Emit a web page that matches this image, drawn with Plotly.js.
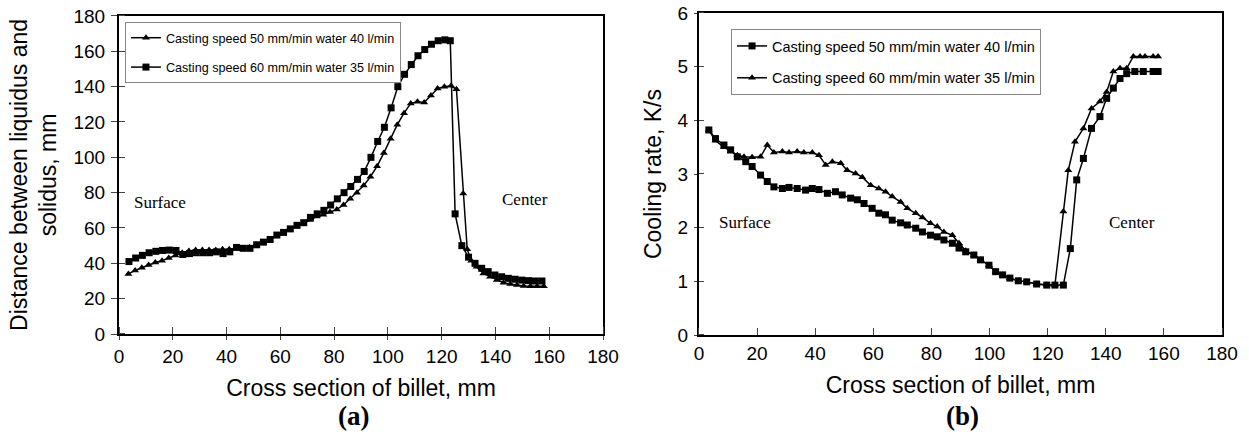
<!DOCTYPE html>
<html><head><meta charset="utf-8">
<script src="https://cdn.plot.ly/plotly-3.0.1.min.js"></script>
<style>html,body{margin:0;padding:0;background:#fff}#chart{width:1249px;height:435px}</style>
</head><body><div id="chart"></div>
<script>
// ---- Panel (a): distance between liquidus and solidus, mm ----
const aName1 = 'Casting speed 50 mm/min water 40 l/min';
const aName2 = 'Casting speed 60 mm/min water 35 l/min';
const aTriX = [3.5,6,8.5,11,13.5,16,18.5,21,23.5,26,28.5,31,33.5,36,38.5,41,43.5,46,48.5,51,53.5,56,58.5,61,63.5,66,68.5,71,73.5,76,78.5,81,83.5,86,88.5,91,93.5,96,98.5,101,103.5,106,108.5,111,113.5,116,118.5,121,123.5,125.5,128,129.5,131,133,135.5,138,140.5,143,145.5,148,150.5,153,155.5,158];
const aTriY = [34,36,37.5,39,40.5,41.5,43,44.5,46,47,47.5,47.5,47.5,47.5,48,48,48.5,48.5,49,50.5,52,53.5,55.5,57,59,61,62.5,64.5,66.5,67.5,69,70.5,73,76.5,80,84,89,95,102.5,110.5,118.5,125,130.5,131.5,131,135,139,140,140.5,138.5,79.5,48,41.5,38,34.3,32.4,30.6,29,28.3,27.7,27.2,27,27,27];
const aSqX = [3.7,6.2,8.7,11.2,13.7,16.2,18.7,21.2,23.7,26.2,28.7,31.2,33.7,36.2,38.7,41.2,43.7,46.2,48.7,51.2,53.7,56.2,58.7,61.2,63.7,66.2,68.7,71.2,73.7,76.2,78.7,81.2,83.7,86.2,88.7,91.2,93.7,96.2,98.7,101.2,103.7,106.2,108.7,111.2,113.7,116.2,118.7,121.2,123.2,125,127.5,130,132.4,134.9,137.3,139.8,142.3,144.8,147.3,149.8,152.3,154.8,157.3];
const aSqY = [41,43,44.5,46,46.8,47.3,47.5,47.3,45,45.5,46,46,46,46.5,45.5,46.5,49,48.5,48.5,50.5,52,53.5,56,57.5,59.5,61.5,63,66,68,70,73,76.5,80,83.5,87.5,92,100,109,117,128,140,147,152.5,157.5,161,164,166,166.5,166,68,50,43.5,40,37.2,35.3,33.4,32.4,31.5,31,30.5,30.2,30,30];

// ---- Panel (b): cooling rate, K/s ----
const bName1 = 'Casting speed 50 mm/min water 40 l/min';
const bName2 = 'Casting speed 60 mm/min water 35 l/min';
const bSqX = [3.4,5.7,8.6,10.9,13.2,16.1,18.3,21.2,23.5,25.8,28.7,31,33.8,36.7,39,41.3,44.2,47,49.3,52.2,54.5,56.8,59.6,61.9,64.2,66.5,69.4,71.7,74.6,76.9,79.7,82,84.3,87.2,89.5,91.8,94.6,96.9,99.8,102.1,104.5,107,109.9,112.8,116.2,119.7,122.5,125.4,127.8,130,132.3,135.1,138,140.3,142.6,144.9,147.2,150,152.9,156.3,158];
const bSqY = [3.82,3.66,3.54,3.45,3.32,3.23,3.14,2.98,2.86,2.76,2.73,2.75,2.73,2.70,2.73,2.71,2.64,2.67,2.61,2.55,2.52,2.45,2.36,2.27,2.24,2.14,2.09,2.05,1.99,1.92,1.86,1.83,1.77,1.71,1.62,1.55,1.49,1.40,1.30,1.18,1.12,1.06,1.01,0.99,0.95,0.93,0.93,0.93,1.61,2.89,3.29,3.85,4.07,4.41,4.60,4.78,4.87,4.91,4.91,4.91,4.91];
const bTriX = [3.4,5.7,8.6,10.9,13.2,15.5,18.3,21.2,23.5,25.8,28.7,31,33.8,36.1,39,41.3,43.6,45.9,48.8,51,53.9,56.2,59.1,61.9,64.2,66.5,69.4,71.7,74.6,76.9,79.7,82,84.3,87.2,89.5,91.8,94.6,96.9,99.8,102.1,104.5,107,109.9,112.8,116.2,119.7,122.5,125.4,127.1,129.4,132.3,135.1,138,140.3,142.6,144.9,147.2,149.5,151.8,153.5,156.3,158];
const bTriY = [3.82,3.62,3.5,3.42,3.35,3.32,3.31,3.32,3.54,3.40,3.42,3.40,3.42,3.40,3.40,3.35,3.17,3.23,3.20,3.07,3.01,2.94,2.79,2.73,2.67,2.58,2.48,2.36,2.27,2.19,2.08,2.02,1.92,1.86,1.71,1.57,1.49,1.40,1.30,1.18,1.12,1.06,1.01,0.99,0.95,0.93,0.93,2.30,3.07,3.60,3.85,4.22,4.35,4.53,4.91,4.97,4.97,5.19,5.19,5.19,5.19,5.19];

const xTitle = 'Cross section of billet, mm';
const aYTitle = 'Distance between liquidus and<br>solidus, mm';
const bYTitle = 'Cooling rate, K/s';

const lineStyle = {color:'#000', width:1.5};
const tri = {symbol:'triangle-up', size:7, color:'#000'};
const sq = {symbol:'square', size:7, color:'#000'};

const traces = [
  {x:aTriX, y:aTriY, name:aName1, mode:'lines+markers', line:lineStyle, marker:tri, xaxis:'x', yaxis:'y', legend:'legend', legendgroup:'a1'},
  {x:aSqX, y:aSqY, name:aName2, mode:'lines+markers', line:lineStyle, marker:sq, xaxis:'x', yaxis:'y', legend:'legend', legendgroup:'a2'},
  {x:bSqX, y:bSqY, name:bName1, mode:'lines+markers', line:lineStyle, marker:sq, xaxis:'x2', yaxis:'y2', legend:'legend2', legendgroup:'b1'},
  {x:bTriX, y:bTriY, name:bName2, mode:'lines+markers', line:lineStyle, marker:tri, xaxis:'x2', yaxis:'y2', legend:'legend2', legendgroup:'b2'}
];

const tickFont = {family:'Liberation Sans, Arial, sans-serif', size:19, color:'#000'};
const titleFont = {family:'Liberation Sans, Arial, sans-serif', size:23, color:'#000'};
function axisBase(range, dtick, outLen, inLen) {
  return {
    range: range, autorange:false, tickmode:'linear', tick0:0, dtick:dtick,
    ticks: outLen > 0 ? 'outside' : '', ticklen: outLen, tickwidth:1, tickcolor:'#444',
    minor: {ticks:'inside', ticklen:inLen, tickwidth:1, tickcolor:'#444', tickmode:'linear', tick0:dtick*0.0001, dtick:dtick, showgrid:false},
    showline:true, linecolor:'#000', linewidth:2, mirror:true,
    showgrid:false, zeroline:false, tickfont:tickFont, fixedrange:true
  };
}

const serif = {family:'Liberation Serif, Times New Roman, serif', size:17, color:'#000'};
const layout = {
  width:1249, height:435,
  margin:{l:119, r:27, t:13, b:100},
  paper_bgcolor:'#fff', plot_bgcolor:'#fff',
  font:{family:'Liberation Sans, Arial, sans-serif', color:'#000'},
  xaxis: Object.assign(axisBase([0,180],20,4,7), {domain:[0,0.4388], anchor:'y',
    title:{text:xTitle, font:titleFont, standoff:14}}),
  yaxis: Object.assign(axisBase([0,180],20,6,6), {domain:[0.0031,0.9907], anchor:'x', ticklabelstandoff:2,
    title:{text:aYTitle, font:titleFont, standoff:10}}),
  xaxis2: Object.assign(axisBase([0,180],20,0,7), {domain:[0.5258,1], anchor:'y2',
    title:{text:xTitle, font:titleFont, standoff:14}}),
  yaxis2: Object.assign(axisBase([0,6],1,3,5), {domain:[0,1], anchor:'x2', ticklabelstandoff:2,
    title:{text:bYTitle, font:titleFont, standoff:10}}),
  legend:{x:0.0054, y:0.972, xanchor:'left', yanchor:'top', bgcolor:'#fff', bordercolor:'#888', borderwidth:1,
    font:{family:'Liberation Sans, Arial, sans-serif', size:12.6, color:'#000'}, tracegroupgap:10},
  legend2:{x:0.5549, y:0.9503, xanchor:'left', yanchor:'top', bgcolor:'#fff', bordercolor:'#888', borderwidth:1,
    font:{family:'Liberation Sans, Arial, sans-serif', size:14.5, color:'#000'}, tracegroupgap:10},
  annotations:[
    {text:'Surface', xref:'x', yref:'y', x:4.8, y:74.7, xanchor:'left', yanchor:'middle', showarrow:false, font:serif},
    {text:'Center', xref:'x', yref:'y', x:141.7, y:76.4, xanchor:'left', yanchor:'middle', showarrow:false, font:serif},
    {text:'Surface', xref:'x2', yref:'y2', x:6.2, y:2.09, xanchor:'left', yanchor:'middle', showarrow:false, font:serif},
    {text:'Center', xref:'x2', yref:'y2', x:140.4, y:2.09, xanchor:'left', yanchor:'middle', showarrow:false, font:serif},
    {text:'<b>(a)</b>', xref:'paper', yref:'paper', x:0.2126, y:-0.2516, xanchor:'center', yanchor:'middle', showarrow:false,
      font:{family:'Liberation Serif, Times New Roman, serif', size:27, color:'#000'}},
    {text:'<b>(b)</b>', xref:'paper', yref:'paper', x:0.7647, y:-0.2516, xanchor:'center', yanchor:'middle', showarrow:false,
      font:{family:'Liberation Serif, Times New Roman, serif', size:27, color:'#000'}}
  ]
};

Plotly.newPlot('chart', traces, layout, {displayModeBar:false, staticPlot:true});
</script>
</body></html>
